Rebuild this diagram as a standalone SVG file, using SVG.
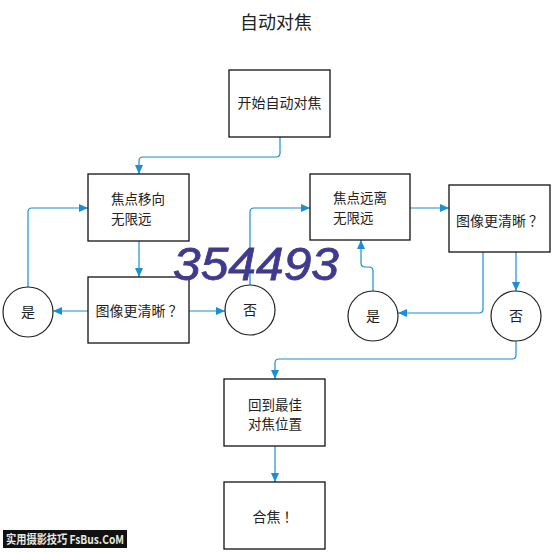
<svg xmlns="http://www.w3.org/2000/svg" width="552" height="552" viewBox="0 0 552 552">
<defs>
<marker id="ah" markerUnits="userSpaceOnUse" markerWidth="9" markerHeight="8" refX="9" refY="4" orient="auto">
<path d="M0,0 L9,4 L0,8 z" fill="#1a8fd8"/>
</marker>
<style>
.box{fill:#fff;stroke:#111;stroke-width:1.3}
.c{fill:#fff;stroke:#222;stroke-width:1.2}
.t{font-family:"Noto Sans CJK SC","Noto Sans",sans-serif;font-size:14px;fill:#222}
.s{font-size:13.5px}
.m{text-anchor:middle}
.ln{fill:none;stroke:#1a8fd8;stroke-width:1.2;marker-end:url(#ah)}
</style>
</defs>
<rect width="552" height="552" fill="#fff"/>
<text x="276" y="29" class="t m" style="font-size:18px">自动对焦</text>

<g id="connectors">
<path class="ln" d="M280,137 V153 Q280,157 276,157 H143 Q139,157 139,161 V174"/>
<path class="ln" d="M139,241 V277"/>
<path class="ln" d="M88,311 H53"/>
<path class="ln" d="M28,287 V212 Q28,208 32,208 H88"/>
<path class="ln" d="M189,311 H225"/>
<path class="ln" d="M250,285 V212 Q250,208 254,208 H310"/>
<path class="ln" d="M410,208 H449"/>
<path class="ln" d="M516,252 V291"/>
<path class="ln" d="M483,252 V309 Q483,313 479,313 H398"/>
<path class="ln" d="M373,291 V271 Q373,267 369,267 H365 Q361,267 361,263 V240"/>
<path class="ln" d="M516,341 V355 Q516,359 512,359 H279 Q275,359 275,363 V379"/>
<path class="ln" d="M275,446 V482"/>
</g>

<g id="start"><rect class="box" x="229" y="70" width="101" height="67"/><text x="279.5" y="108" class="t m">开始自动对焦</text></g>
<g id="moveInf"><rect class="box" x="88" y="174" width="101" height="67"/><text x="111" y="204" class="t s">焦点移向</text><text x="111" y="223.5" class="t s">无限远</text></g>
<g id="clearer1"><rect class="box" x="88" y="277" width="101" height="66"/><text x="139" y="316" class="t m">图像更清晰 ？</text></g>
<g id="yes1"><circle class="c" cx="28" cy="312" r="25"/><text x="28" y="317" class="t m">是</text></g>
<g id="no1"><circle class="c" cx="250" cy="310" r="25"/><text x="250" y="315" class="t m">否</text></g>
<g id="moveAway"><rect class="box" x="310" y="174" width="100" height="66"/><text x="333" y="203" class="t s">焦点远离</text><text x="333" y="222.5" class="t s">无限远</text></g>
<g id="clearer2"><rect class="box" x="449" y="185" width="101" height="67"/><text x="499.5" y="226" class="t m">图像更清晰 ？</text></g>
<g id="yes2"><circle class="c" cx="373" cy="316" r="25"/><text x="373" y="321" class="t m">是</text></g>
<g id="no2"><circle class="c" cx="516" cy="316" r="25"/><text x="516" y="321" class="t m">否</text></g>
<g id="back"><rect class="box" x="224" y="379" width="101" height="67"/><text x="275" y="409.5" class="t m s">回到最佳</text><text x="275" y="429" class="t m s">对焦位置</text></g>
<g id="done"><rect class="box" x="224" y="482" width="101" height="67"/><text x="275" y="522" class="t m">合焦 ！</text></g>

<text x="173" y="280" font-family="'Liberation Sans',sans-serif" font-style="italic" font-size="47" fill="#3f3a8f" stroke="#3f3a8f" stroke-width="0.8" textLength="166" lengthAdjust="spacingAndGlyphs">354493</text>

<rect x="3" y="530" width="124" height="18" fill="#111"/>
<text x="6" y="544" font-family="'Noto Sans CJK SC','Liberation Sans',sans-serif" font-weight="bold" font-size="12" fill="#e8e8e0" textLength="118" lengthAdjust="spacingAndGlyphs">实用摄影技巧 FsBus.CoM</text>
</svg>
